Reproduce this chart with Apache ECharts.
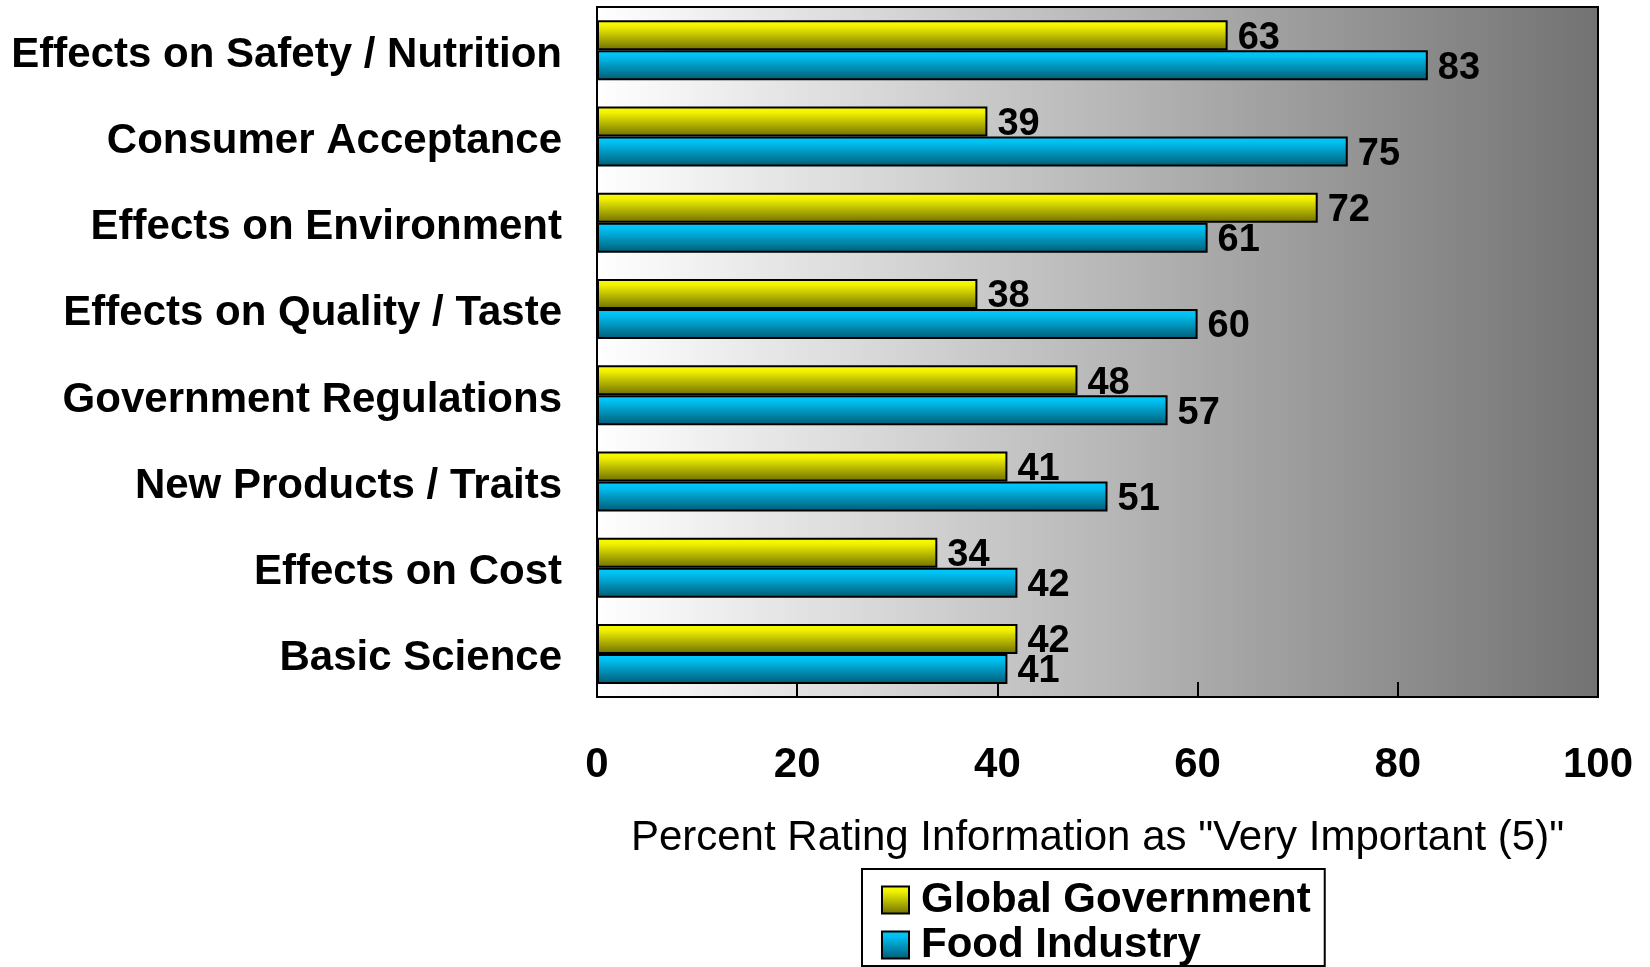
<!DOCTYPE html>
<html><head><meta charset="utf-8">
<script src="https://cdn.jsdelivr.net/npm/echarts@6/dist/echarts.min.js"></script>
<style>html,body{margin:0;padding:0;background:#fff}#c{width:1650px;height:967px}</style>
</head><body><div id="c"></div>
<script>
const categories = ["Effects on Safety / Nutrition","Consumer Acceptance","Effects on Environment","Effects on Quality / Taste","Government Regulations","New Products / Traits","Effects on Cost","Basic Science"];
const globalGovernment = [63,39,72,38,48,41,34,42];
const foodIndustry = [83,75,61,60,57,51,42,41];
const seriesNames = ["Global Government","Food Industry"];
const xTicks = [0,20,40,60,80,100];
const axisTitle = 'Percent Rating Information as "Very Important (5)"';

const FONT = '"Liberation Sans", Arial, sans-serif';
const grad = (c0,c1,c2) => ({type:'linear',x:0,y:0,x2:0,y2:1,colorStops:[{offset:0,color:c0},{offset:0.2,color:c1},{offset:1,color:c2}]});
const chart = echarts.init(document.getElementById('c'));
chart.setOption({
  animation:false,
  textStyle:{fontFamily:FONT},
  grid:{left:597,right:52,top:7,bottom:270,show:true,borderColor:'#000',borderWidth:2,
    backgroundColor:{type:'linear',x:0,y:0,x2:1,y2:0,colorStops:[{offset:0,color:'#ffffff'},{offset:1,color:'#727272'}]}},
  xAxis:{type:'value',min:xTicks[0],max:xTicks[xTicks.length-1],interval:20,
    axisLine:{show:true,lineStyle:{color:'#000',width:2}},
    axisTick:{show:true,inside:true,length:15,lineStyle:{color:'#000',width:2}},
    splitLine:{show:false},
    axisLabel:{margin:47,color:'#000',fontSize:42,fontWeight:'bold',fontFamily:FONT},
    name:axisTitle,nameLocation:'middle',nameGap:120,
    nameTextStyle:{color:'#000',fontSize:42,fontFamily:FONT}},
  yAxis:{type:'category',data:categories,inverse:true,
    axisLine:{show:false},axisTick:{show:false},
    axisLabel:{margin:35,color:'#000',fontSize:42,fontWeight:'bold',fontFamily:FONT,
      formatter: v => '{a|' + v + '}',
      rich:{a:{fontSize:42,fontWeight:'bold',color:'#000',fontFamily:FONT,lineHeight:42,padding:[10,0,0,0]}}}},
  legend:{orient:'vertical',left:862,top:869,padding:[10,14,0,19],itemGap:3,
    borderColor:'#000',borderWidth:2,backgroundColor:'#fff',
    itemWidth:27,itemHeight:27,itemStyle:{borderColor:'#000',borderWidth:2},
    textStyle:{fontSize:42,fontWeight:'bold',color:'#000',fontFamily:FONT,lineHeight:40,padding:[0,0,0,7]},
    icon:'rect',data:seriesNames},
  series:[
    {name:seriesNames[0],type:'bar',data:globalGovernment,barWidth:30,barGap:'0%',
     itemStyle:{color:grad('#ffff00','#f2f200','#6e6e00'),borderColor:'#000',borderWidth:2},
     label:{show:true,position:'right',distance:10,offset:[0,3],color:'#000',fontSize:38,fontWeight:'bold',fontFamily:FONT}},
    {name:seriesNames[1],type:'bar',data:foodIndustry,barWidth:30,barGap:'0%',
     itemStyle:{color:grad('#00ccff','#00c0f2','#005a73'),borderColor:'#000',borderWidth:2},
     label:{show:true,position:'right',distance:10,offset:[0,3],color:'#000',fontSize:38,fontWeight:'bold',fontFamily:FONT}}
  ]
});
</script></body></html>
